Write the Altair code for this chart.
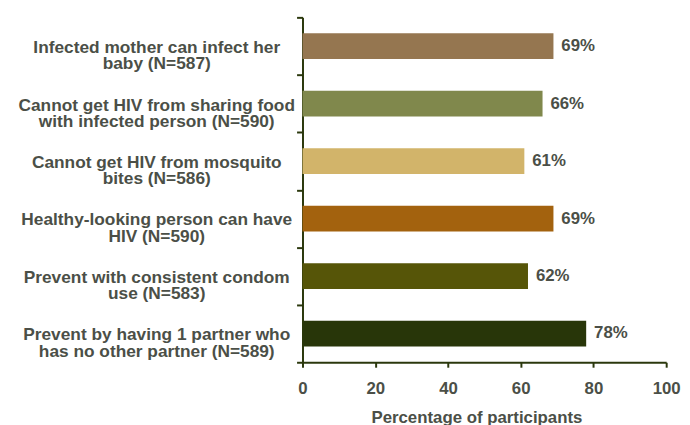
import altair as alt
import pandas as pd

categories = [
    "Infected mother can infect her\nbaby (N=587)",
    "Cannot get HIV from sharing food\nwith infected person (N=590)",
    "Cannot get HIV from mosquito\nbites (N=586)",
    "Healthy-looking person can have\nHIV (N=590)",
    "Prevent with consistent condom\nuse (N=583)",
    "Prevent by having 1 partner who\nhas no other partner (N=589)",
]
values = [69, 66, 61, 69, 62, 78]
value_labels = ["69%", "66%", "61%", "69%", "62%", "78%"]
bar_colors = ["#957650", "#80884c", "#d2b46a", "#a3620e", "#565508", "#283609"]
x_ticks = [0, 20, 40, 60, 80, 100]

df = pd.DataFrame({"item": categories, "pct": values, "label": value_labels, "color": bar_colors})

FONT = "Liberation Sans"
TEXT = "#4b4f47"
AXIS = "#2b380d"

y_enc = alt.Y(
    "item:N",
    sort=categories,
    scale=alt.Scale(paddingInner=0, paddingOuter=0),
    axis=alt.Axis(
        title=None,
        tickBand="extent",
        labelExpr="split(datum.label, '\\n')",
        labelAlign="center",
        labelBaseline="middle",
        labelPadding=142,
        labelOffset=1.5,
        labelFont=FONT,
        labelFontSize=17.5,
        labelFontWeight="bold",
        labelColor=TEXT,
        labelLineHeight=16.5,
        labelLimit=400,
        tickSize=6,
        tickWidth=2,
        tickColor=AXIS,
        domainColor=AXIS,
        domainWidth=2,
        grid=False,
    ),
)

x_enc = alt.X(
    "pct:Q",
    scale=alt.Scale(domain=[0, 100], nice=False),
    axis=alt.Axis(
        values=x_ticks,
        title="Percentage of participants",
        titleFont=FONT,
        titleFontSize=17,
        titleFontWeight="bold",
        titleColor=TEXT,
        titleX=176,
        titleY=61,
        titleAlign="center",
        titleBaseline="alphabetic",
        labelFont=FONT,
        labelFontSize=17,
        labelFontWeight="bold",
        labelColor=TEXT,
        labelPadding=14,
        labelFlush=False,
        labelOverlap=False,
        tickSize=5,
        tickWidth=2,
        tickColor=AXIS,
        domainColor=AXIS,
        domainWidth=2,
        grid=False,
    ),
)

base = alt.Chart(df)

bars = base.mark_bar(size=26).encode(
    y=y_enc,
    x=x_enc,
    color=alt.Color("color:N", scale=None, legend=None),
)

text = base.mark_text(
    align="left", baseline="middle", dx=8, font=FONT, fontSize=17, fontWeight="bold", color=TEXT
).encode(
    y=alt.Y("item:N", sort=categories),
    x=alt.X("pct:Q"),
    text="label:N",
)

chart = (
    alt.layer(bars, text)
    .properties(
        width=368,
        height=349,
        autosize=alt.AutoSizeParams(type="none"),
        padding={"left": 298, "top": 7, "right": 16, "bottom": 61},
    )
    .configure_view(stroke=None)
)

chart.save("out.html", embed_options={"renderer": "svg", "actions": False})
